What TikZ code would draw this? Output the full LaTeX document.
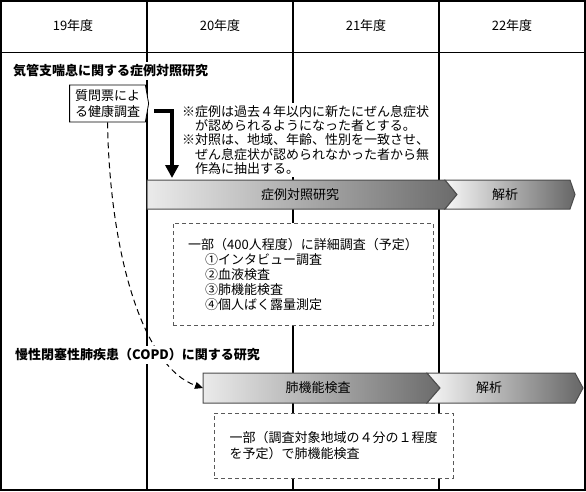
\documentclass[tikz,border=0pt]{standalone}
\usepackage{fontspec}
\setmainfont{Noto Sans CJK JP}
\usetikzlibrary{arrows.meta,shapes.symbols}
\begin{document}
\begin{tikzpicture}[x=1pt,y=-1pt,
  jp/.style={font=\fontsize{13pt}{15pt}\selectfont, inner sep=0pt},
  ttl/.style={font=\fontsize{13pt}{15pt}\selectfont\bfseries, fill=white, anchor=west, inner xsep=1pt, inner ysep=3pt},
  colline/.style={line width=2pt},
  barA/.style={draw=black!70, line width=1pt, left color=black!8, right color=black!58},
  barB/.style={draw=black!70, line width=1pt, left color=black!3, right color=black!60},
  dbox/.style={draw=black!65, dash pattern=on 4pt off 3pt, line width=1pt, fill=white, align=left, inner sep=0pt},
  dcurve/.style={dash pattern=on 6pt off 4pt, line width=1pt, -{Triangle[length=8pt,width=7pt]}},
  bigarrow/.style={line width=3.5pt, -{Triangle[width=13pt,length=13pt]}}]
\useasboundingbox (0,0) rectangle (586,491);
% grid
\foreach \x in {147,293,439} \draw[colline] (\x,0) -- (\x,491);
\draw[line width=1pt] (0,52) -- (586,52);
\draw[line width=1.6pt] (0.8,0.8) rectangle (585.2,490.2);
% header
\node[jp] (h19) at (73,26) {19年度};
\node[jp] (h20) at (220,26) {20年度};
\node[jp] (h21) at (366,26) {21年度};
\node[jp] (h22) at (512,26) {22年度};
% title 1
\node[ttl] (t1) at (12,71) {気管支喘息に関する症例対照研究};
% questionnaire box
\node[draw, fill=white, line width=0.8pt, shape=signal, signal to=east, signal pointer angle=160,
      minimum width=79pt, minimum height=37pt, inner sep=2pt, align=left,
      font=\fontsize{13pt}{16pt}\selectfont] (q) at (107.5,103.5) {質問票によ\\る健康調査};
% note
\node[fill=white, anchor=north west, inner sep=2pt, align=left,
      font=\fontsize{13pt}{14.3pt}\selectfont] (note) at (180,103)
  {※症例は過去４年以内に新たにぜん息症状\\　が認められるようになった者とする。\\※対照は、地域、年齢、性別を一致させ、\\　ぜん息症状が認められなかった者から無\\　作為に抽出する。};
% elbow arrow
\coordinate (e2) at (172,178);
\draw[bigarrow] ([shift={(5,7.5)}]q.east) -| (e2);
% bars row 1
\path[barA] (147,180) -- (445,180) -- (457,194.5) -- (445,209) -- (147,209) -- cycle;
\node[jp] (bar1a) at (300,194.5) {症例対照研究};
\path[barB] (445,180) -- (570,180) -- (575,194.5) -- (570,209) -- (445,209) -- (457,194.5) -- cycle;
\node[jp] (bar1b) at (505,194.5) {解析};
% dashed box 1
\node[dbox, minimum width=260pt, minimum height=102pt, font=\fontsize{13pt}{15pt}\selectfont] (d1) at (303,274)
  {一部（400人程度）に詳細調査（予定）\\\hspace*{17pt}①インタビュー調査\\\hspace*{17pt}②血液検査\\\hspace*{17pt}③肺機能検査\\\hspace*{17pt}④個人ばく露量測定};
% bars row 2
\path[barA] (203,373) -- (427,373) -- (440,388) -- (427,403) -- (203,403) -- cycle;
\node[jp] (bar2a) at (318,388) {肺機能検査};
\path[barB] (427,373) -- (575,373) -- (583,388) -- (575,403) -- (427,403) -- (440,388) -- cycle;
\node[jp] (bar2b) at (489,388) {解析};
\coordinate (b2w) at (203,388);
% dashed curve
\draw[dcurve] (q.south) .. controls (110,260) and (145,368) .. (b2w);
% title 2
\node[ttl] (t2) at (14,355) {慢性閉塞性肺疾患（COPD）に関する研究};
% dashed box 2
\node[dbox, minimum width=239pt, minimum height=65pt, font=\fontsize{13pt}{16pt}\selectfont] (d2) at (333.5,445.5)
  {一部（調査対象地域の４分の１程度\\を予定）で肺機能検査};
\end{tikzpicture}
\end{document}
